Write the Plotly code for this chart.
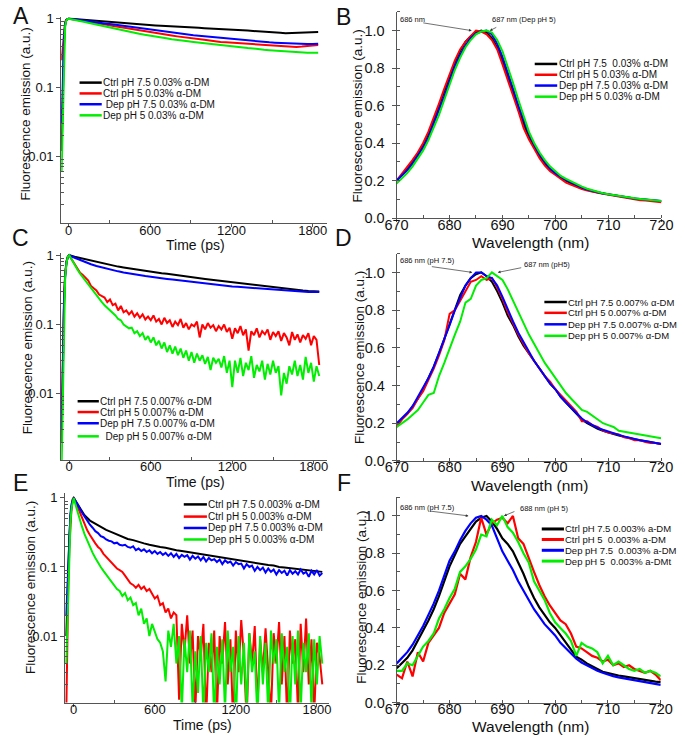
import plotly.graph_objects as go

W, H = 685, 743
FONT = "Liberation Sans, Arial, sans-serif"
COLORS = ["#000000", "#ff0000", "#0000ff", "#00ee00"]

# ---------------- Panel A (0.03% a-DM) decay, t step 40 ps ----------------
tA_rise = [-52, -46, -40, -34, -26, -18, -9]
A_black_rise = [0.012, 0.04, 0.15, 0.45, 0.8, 0.95, 0.99]
A_red_rise = [0.25, 0.35, 0.55, 0.75, 0.9, 0.97, 0.99]
A_blue_rise = [0.03, 0.08, 0.25, 0.55, 0.85, 0.96, 0.99]
A_green_rise = [0.006, 0.02, 0.1, 0.4, 0.78, 0.94, 0.99]
A_black = [1.00, 0.995, 0.98, 0.96, 0.94, 0.925, 0.91, 0.90, 0.89, 0.875, 0.865, 0.85, 0.84, 0.83, 0.815,
           0.805, 0.80, 0.79, 0.785, 0.775, 0.77, 0.76, 0.755, 0.745, 0.74, 0.73, 0.725, 0.715, 0.71, 0.70,
           0.69, 0.685, 0.68, 0.675, 0.665, 0.66, 0.655, 0.65, 0.64, 0.625, 0.615, 0.62, 0.63, 0.635, 0.64,
           0.64, 0.645]
A_red = [1.0, 0.98, 0.955, 0.93, 0.90, 0.87, 0.845, 0.82, 0.795, 0.77, 0.745, 0.72, 0.70, 0.68, 0.655,
         0.635, 0.62, 0.60, 0.585, 0.57, 0.555, 0.54, 0.53, 0.515, 0.505, 0.495, 0.485, 0.47, 0.46, 0.455,
         0.45, 0.445, 0.44, 0.435, 0.43, 0.425, 0.42, 0.415, 0.405, 0.40, 0.40, 0.395, 0.39, 0.395, 0.405,
         0.41, 0.415]
A_blue = [1.0, 0.985, 0.965, 0.945, 0.92, 0.895, 0.87, 0.85, 0.83, 0.81, 0.785, 0.765, 0.745, 0.725, 0.705,
          0.685, 0.67, 0.655, 0.64, 0.625, 0.61, 0.60, 0.585, 0.575, 0.565, 0.555, 0.545, 0.535, 0.525, 0.515,
          0.505, 0.495, 0.49, 0.48, 0.475, 0.465, 0.46, 0.455, 0.45, 0.445, 0.44, 0.435, 0.435, 0.43, 0.43,
          0.43, 0.435]
A_green = [1.0, 0.97, 0.935, 0.895, 0.86, 0.825, 0.79, 0.76, 0.73, 0.70, 0.675, 0.65, 0.625, 0.605, 0.585,
           0.565, 0.55, 0.535, 0.52, 0.505, 0.49, 0.48, 0.47, 0.46, 0.45, 0.44, 0.43, 0.42, 0.41, 0.405,
           0.40, 0.39, 0.385, 0.375, 0.37, 0.36, 0.355, 0.35, 0.345, 0.34, 0.335, 0.33, 0.33, 0.325, 0.32,
           0.32, 0.32]

# ---------------- Panel C (0.007% a-DM) decay ----------------
tC_rise = [-56, -50, -44, -38, -30, -20, -10]
C_black_rise = [0.002, 0.01, 0.05, 0.2, 0.5, 0.8, 0.95]
C_red_rise = [0.004, 0.02, 0.08, 0.25, 0.55, 0.82, 0.96]
C_blue_rise = [0.003, 0.015, 0.06, 0.22, 0.5, 0.8, 0.95]
C_green_rise = [0.0009, 0.005, 0.04, 0.18, 0.48, 0.78, 0.95]
# step 40 ps
C_black = [1.0, 0.95, 0.91, 0.87, 0.83, 0.80, 0.76, 0.735, 0.71, 0.685, 0.665, 0.645, 0.63, 0.61, 0.595,
           0.58, 0.565, 0.55, 0.54, 0.525, 0.51, 0.50, 0.49, 0.475, 0.465, 0.455, 0.445, 0.435, 0.425, 0.415,
           0.405, 0.40, 0.39, 0.38, 0.37, 0.365, 0.355, 0.35, 0.34, 0.335, 0.33, 0.32, 0.315, 0.31, 0.305,
           0.30, 0.30]
C_blue = [1.0, 0.92, 0.85, 0.79, 0.74, 0.70, 0.665, 0.635, 0.61, 0.585, 0.565, 0.545, 0.53, 0.515, 0.50,
          0.49, 0.475, 0.465, 0.455, 0.445, 0.435, 0.425, 0.42, 0.41, 0.40, 0.395, 0.385, 0.375, 0.37, 0.36,
          0.355, 0.35, 0.345, 0.34, 0.335, 0.33, 0.325, 0.32, 0.315, 0.31, 0.31, 0.305, 0.30, 0.30, 0.295,
          0.295, 0.295]
# step 20 ps
C_red = [1.0, 0.86, 0.74, 0.64, 0.56, 0.52, 0.47, 0.43, 0.36, 0.33, 0.31, 0.27, 0.26, 0.245, 0.21, 0.23,
         0.19, 0.20, 0.16, 0.185, 0.15, 0.16, 0.14, 0.155, 0.13, 0.145, 0.125, 0.14, 0.118, 0.13, 0.115,
         0.135, 0.11, 0.12, 0.10, 0.125, 0.105, 0.115, 0.092, 0.11, 0.098, 0.12, 0.09, 0.105, 0.085, 0.10,
         0.094, 0.11, 0.065, 0.10, 0.085, 0.105, 0.09, 0.098, 0.08, 0.095, 0.085, 0.10, 0.078, 0.09, 0.062,
         0.088, 0.075, 0.095, 0.07, 0.085, 0.042, 0.08, 0.07, 0.088, 0.065, 0.08, 0.072, 0.085, 0.06, 0.078,
         0.068, 0.08, 0.058, 0.075, 0.065, 0.05, 0.078, 0.06, 0.072, 0.055, 0.07, 0.062, 0.075, 0.05, 0.068,
         0.06, 0.026]
C_green = [1.0, 0.84, 0.72, 0.62, 0.54, 0.48, 0.42, 0.37, 0.33, 0.29, 0.26, 0.235, 0.21, 0.19, 0.175, 0.16,
           0.145, 0.135, 0.12, 0.115, 0.10, 0.095, 0.088, 0.09, 0.075, 0.08, 0.068, 0.075, 0.06, 0.068, 0.055,
           0.065, 0.05, 0.058, 0.045, 0.055, 0.04, 0.05, 0.038, 0.048, 0.036, 0.045, 0.033, 0.042, 0.03, 0.04,
           0.028, 0.038, 0.03, 0.036, 0.027, 0.034, 0.022, 0.033, 0.028, 0.032, 0.024, 0.035, 0.02, 0.03,
           0.0125, 0.03, 0.02, 0.033, 0.018, 0.028, 0.022, 0.035, 0.017, 0.026, 0.021, 0.03, 0.016, 0.027,
           0.019, 0.03, 0.02, 0.025, 0.0095, 0.02, 0.014, 0.025, 0.019, 0.03, 0.018, 0.026, 0.016, 0.034,
           0.02, 0.028, 0.015, 0.025, 0.018]

# ---------------- Panel E (0.003% a-DM) decay ----------------
tE_rise = [-55, -48, -40, -32, -24, -16, -8]
E_black_rise = [0.01, 0.03, 0.1, 0.28, 0.55, 0.8, 0.95]
E_red_rise = [0.0008, 0.01, 0.06, 0.2, 0.45, 0.72, 0.92]
E_blue_rise = [0.02, 0.05, 0.15, 0.35, 0.6, 0.82, 0.95]
E_green_rise = [0.004, 0.012, 0.06, 0.2, 0.45, 0.72, 0.92]
# step 40 ps
E_black = [1.0, 0.74, 0.56, 0.47, 0.42, 0.38, 0.345, 0.32, 0.295, 0.275, 0.255, 0.245, 0.235, 0.22, 0.21,
           0.20, 0.195, 0.19, 0.18, 0.175, 0.17, 0.165, 0.16, 0.155, 0.15, 0.147, 0.143, 0.14, 0.136, 0.132,
           0.128, 0.125, 0.12, 0.117, 0.113, 0.11, 0.107, 0.105, 0.10, 0.098, 0.096, 0.094, 0.092, 0.09,
           0.088, 0.086, 0.085]
# step 20 ps
E_blue = [1.0, 0.86, 0.72, 0.62, 0.54, 0.46, 0.41, 0.37, 0.33, 0.31, 0.28, 0.27, 0.25, 0.24, 0.235, 0.22,
          0.225, 0.21, 0.205, 0.21, 0.195, 0.19, 0.20, 0.175, 0.185, 0.17, 0.18, 0.165, 0.175, 0.158, 0.17,
          0.155, 0.165, 0.15, 0.16, 0.145, 0.158, 0.14, 0.155, 0.135, 0.15, 0.14, 0.148, 0.128, 0.145, 0.132,
          0.142, 0.125, 0.14, 0.12, 0.135, 0.125, 0.13, 0.118, 0.128, 0.11, 0.125, 0.115, 0.12, 0.105, 0.118,
          0.11, 0.112, 0.095, 0.11, 0.10, 0.105, 0.088, 0.10, 0.09, 0.098, 0.083, 0.095, 0.085, 0.092, 0.078,
          0.09, 0.082, 0.088, 0.075, 0.09, 0.08, 0.087, 0.078, 0.092, 0.08, 0.085, 0.072, 0.088, 0.078, 0.09,
          0.075, 0.082]
E_red = [1.0, 0.82, 0.65, 0.52, 0.42, 0.34, 0.29, 0.25, 0.22, 0.195, 0.18, 0.155, 0.14, 0.125, 0.115, 0.105,
         0.095, 0.09, 0.085, 0.075, 0.065, 0.058, 0.055, 0.05, 0.055, 0.048, 0.052, 0.045, 0.048, 0.04, 0.035,
         0.038, 0.028, 0.03, 0.022, 0.025, 0.018, 0.022, 0.02, 0.0012, 0.015, 0.006, 0.02, 0.004, 0.012,
         0.0008, 0.01, 0.005, 0.015, 0.0006, 0.008, 0.003, 0.012, 0.0007, 0.01, 0.004, 0.016, 0.002, 0.009,
         0.0005, 0.012, 0.003, 0.017, 0.005, 0.0006, 0.011, 0.004, 0.014, 0.0009, 0.009, 0.003, 0.013, 0.002,
         0.0007, 0.011, 0.004, 0.016, 0.002, 0.01, 0.0006, 0.012, 0.004, 0.009, 0.0008, 0.015, 0.003, 0.018,
         0.002, 0.009, 0.0007, 0.008, 0.005, 0.002]
E_green = [1.0, 0.72, 0.52, 0.39, 0.30, 0.24, 0.19, 0.16, 0.135, 0.115, 0.10, 0.088, 0.078, 0.068, 0.06,
           0.055, 0.048, 0.045, 0.038, 0.042, 0.033, 0.036, 0.028, 0.03, 0.02, 0.025, 0.015, 0.018, 0.01,
           0.015, 0.012, 0.009, 0.008, 0.006, 0.0022, 0.012, 0.007, 0.015, 0.004, 0.01, 0.0008, 0.009, 0.003,
           0.012, 0.0009, 0.006, 0.0015, 0.01, 0.0007, 0.008, 0.003, 0.011, 0.0006, 0.007, 0.002, 0.009,
           0.0008, 0.012, 0.003, 0.007, 0.0005, 0.01, 0.002, 0.008, 0.0009, 0.011, 0.003, 0.006, 0.0006, 0.01,
           0.002, 0.008, 0.0007, 0.012, 0.004, 0.009, 0.0008, 0.011, 0.003, 0.007, 0.0006, 0.01, 0.002, 0.012,
           0.0008, 0.008, 0.003, 0.011, 0.0009, 0.009, 0.002, 0.01, 0.004]

# ---------------- Spectra, 670..720 nm, 1 nm step ----------------
B_black = [0.20, 0.23, 0.26, 0.30, 0.34, 0.39, 0.45, 0.52, 0.60, 0.68, 0.76, 0.83, 0.89, 0.94, 0.97, 0.99,
           1.00, 0.99, 0.96, 0.91, 0.84, 0.76, 0.67, 0.58, 0.50, 0.43, 0.38, 0.33, 0.29, 0.26, 0.24, 0.22,
           0.20, 0.185, 0.17, 0.16, 0.15, 0.143, 0.137, 0.132, 0.128, 0.123, 0.118, 0.114, 0.11, 0.105, 0.10,
           0.098, 0.095, 0.092, 0.09]
B_red = [0.20, 0.235, 0.27, 0.31, 0.35, 0.40, 0.46, 0.53, 0.61, 0.69, 0.77, 0.84, 0.90, 0.94, 0.97, 1.00,
         0.995, 0.98, 0.95, 0.90, 0.82, 0.74, 0.65, 0.57, 0.48, 0.42, 0.37, 0.32, 0.28, 0.25, 0.23, 0.21,
         0.19, 0.178, 0.165, 0.155, 0.147, 0.14, 0.135, 0.13, 0.125, 0.12, 0.115, 0.11, 0.105, 0.10, 0.096,
         0.094, 0.092, 0.09, 0.085]
B_blue = [0.20, 0.225, 0.255, 0.29, 0.33, 0.375, 0.43, 0.50, 0.57, 0.65, 0.73, 0.81, 0.87, 0.92, 0.96, 0.985,
          0.995, 1.0, 0.98, 0.93, 0.86, 0.78, 0.69, 0.60, 0.52, 0.45, 0.39, 0.34, 0.30, 0.265, 0.24, 0.22,
          0.205, 0.19, 0.175, 0.163, 0.153, 0.145, 0.138, 0.132, 0.127, 0.122, 0.118, 0.114, 0.11, 0.105,
          0.102, 0.099, 0.096, 0.094, 0.092]
B_green = [0.185, 0.21, 0.24, 0.275, 0.315, 0.36, 0.415, 0.48, 0.55, 0.63, 0.71, 0.79, 0.855, 0.91, 0.95,
           0.98, 0.995, 1.0, 0.99, 0.95, 0.89, 0.81, 0.72, 0.63, 0.54, 0.46, 0.40, 0.35, 0.31, 0.275, 0.25,
           0.225, 0.21, 0.195, 0.18, 0.168, 0.157, 0.148, 0.14, 0.133, 0.128, 0.123, 0.118, 0.114, 0.11, 0.106,
           0.103, 0.10, 0.097, 0.095, 0.092]

D_black = [0.195, 0.22, 0.25, 0.29, 0.33, 0.38, 0.44, 0.50, 0.57, 0.65, 0.73, 0.81, 0.88, 0.93, 0.97, 0.99,
           1.00, 0.98, 0.95, 0.90, 0.84, 0.77, 0.72, 0.66, 0.61, 0.57, 0.53, 0.49, 0.45, 0.41, 0.38, 0.34,
           0.31, 0.28, 0.25, 0.22, 0.20, 0.185, 0.17, 0.16, 0.15, 0.142, 0.135, 0.127, 0.12, 0.115, 0.11,
           0.105, 0.10, 0.095, 0.09]
D_red = [0.18, 0.22, 0.25, 0.28, 0.33, 0.37, 0.43, 0.49, 0.56, 0.64, 0.78, 0.80, 0.85, 0.90, 0.95, 0.96,
         0.98, 0.96, 0.97, 0.92, 0.86, 0.79, 0.73, 0.67, 0.62, 0.57, 0.53, 0.49, 0.45, 0.42, 0.38, 0.35,
         0.32, 0.29, 0.26, 0.21, 0.21, 0.19, 0.18, 0.16, 0.15, 0.145, 0.14, 0.125, 0.12, 0.11, 0.11, 0.10,
         0.095, 0.095, 0.09]
D_blue = [0.20, 0.225, 0.255, 0.29, 0.34, 0.39, 0.44, 0.50, 0.57, 0.64, 0.72, 0.80, 0.87, 0.93, 0.97, 1.0,
          1.0, 0.98, 0.97, 0.93, 0.87, 0.80, 0.74, 0.68, 0.63, 0.58, 0.53, 0.49, 0.45, 0.41, 0.38, 0.34,
          0.31, 0.28, 0.25, 0.225, 0.205, 0.19, 0.175, 0.165, 0.155, 0.145, 0.138, 0.13, 0.122, 0.115, 0.11,
          0.105, 0.10, 0.095, 0.09]
D_green = [0.18, 0.20, 0.22, 0.245, 0.27, 0.31, 0.35, 0.36, 0.45, 0.52, 0.60, 0.67, 0.74, 0.84, 0.86, 0.93,
           0.96, 0.97, 1.00, 0.98, 0.96, 0.91, 0.85, 0.79, 0.73, 0.67, 0.62, 0.57, 0.52, 0.48, 0.44, 0.40,
           0.36, 0.33, 0.30, 0.27, 0.26, 0.24, 0.22, 0.20, 0.19, 0.18, 0.16, 0.155, 0.15, 0.145, 0.14, 0.135,
           0.13, 0.125, 0.12]

F_black = [0.184, 0.21, 0.24, 0.28, 0.33, 0.386, 0.44, 0.50, 0.57, 0.65, 0.73, 0.79, 0.85, 0.89, 0.93, 0.97,
           0.99, 1.0, 0.97, 0.93, 0.88, 0.85, 0.81, 0.75, 0.69, 0.62, 0.56, 0.51, 0.47, 0.43, 0.40, 0.36,
           0.32, 0.28, 0.245, 0.23, 0.21, 0.195, 0.18, 0.165, 0.158, 0.15, 0.145, 0.14, 0.135, 0.13, 0.125,
           0.12, 0.115, 0.112, 0.11]
F_red = [0.15, 0.13, 0.22, 0.14, 0.27, 0.22, 0.32, 0.36, 0.40, 0.48, 0.53, 0.58, 0.69, 0.66, 0.78, 0.86,
         0.99, 0.90, 0.96, 0.98, 0.99, 0.96, 1.0, 0.88, 0.85, 0.77, 0.70, 0.63, 0.57, 0.52, 0.48, 0.44,
         0.42, 0.37, 0.30, 0.29, 0.27, 0.25, 0.24, 0.22, 0.23, 0.20, 0.21, 0.19, 0.20, 0.18, 0.17, 0.16,
         0.17, 0.15, 0.12]
F_blue = [0.21, 0.24, 0.27, 0.31, 0.36, 0.41, 0.47, 0.53, 0.60, 0.68, 0.76, 0.81, 0.87, 0.92, 0.96, 0.99,
          1.0, 0.98, 0.95, 0.88, 0.81, 0.76, 0.71, 0.65, 0.60, 0.55, 0.50, 0.46, 0.42, 0.39, 0.36, 0.32,
          0.29, 0.26, 0.235, 0.215, 0.20, 0.185, 0.17, 0.16, 0.15, 0.142, 0.135, 0.13, 0.125, 0.12, 0.115,
          0.11, 0.105, 0.10, 0.095]
F_green = [0.17, 0.17, 0.21, 0.20, 0.25, 0.30, 0.33, 0.37, 0.45, 0.50, 0.56, 0.61, 0.70, 0.73, 0.77, 0.82,
           0.90, 0.89, 0.98, 0.95, 1.0, 0.94, 0.91, 0.86, 0.80, 0.75, 0.65, 0.60, 0.55, 0.48, 0.43, 0.40,
           0.37, 0.33, 0.25, 0.32, 0.30, 0.29, 0.27, 0.21, 0.25, 0.20, 0.22, 0.20, 0.18, 0.17, 0.18, 0.16,
           0.17, 0.16, 0.14]

wavelength_start, wavelength_step = 670, 1

time_ticks = [0, 600, 1200, 1800]
time_minor = [300, 900, 1500]
log_ticks = [0.01, 0.1, 1]
log_ticktext = ["0.01", "0.1", "1"]
log_minor = [0.002, 0.003, 0.004, 0.005, 0.006, 0.007, 0.008, 0.009,
             0.02, 0.03, 0.04, 0.05, 0.06, 0.07, 0.08, 0.09,
             0.2, 0.3, 0.4, 0.5, 0.6, 0.7, 0.8, 0.9]

legend_A = ["Ctrl pH 7.5 0.03% α-DM", "Ctrl pH 5 0.03% α-DM", "\u00a0Dep pH 7.5 0.03% α-DM", "Dep pH 5 0.03% α-DM"]
legend_B = ["Ctrl pH 7.5 \u00a00.03% α-DM", "Ctrl pH 5 0.03% α-DM", "Dep pH 7.5 0.03% α-DM", "Dep pH 5 0.03% α-DM"]
legend_C = ["Ctrl pH 7.5 0.007% α-DM", "Ctrl pH 5 0.007% α-DM", "Dep pH 7.5 0.007% α-DM", "\u00a0\u00a0Dep pH 5 0.007% α-DM"]
legend_D = ["Ctrl pH 7.5 0.007% α-DM", "Ctrl pH 5 0.007% α-DM", "Dep pH 7.5 0.007% α-DM", "Dep pH 5 0.007% α-DM"]
legend_E = ["Ctrl pH 7.5 0.003% α-DM", "Ctrl pH 5 0.003% α-DM", "Dep pH 7.5 0.003% α-DM", "Dep pH 5 0.003% α-DM"]
legend_F = ["Ctrl pH 7.5 0.003% a-DM", "Ctrl pH 5 \u00a00.003% a-DM", "Dep pH 7.5 \u00a00.003% a-DM", "Dep pH 5 \u00a00.003% a-DMt"]


def px(x):
    return x / W


def py(y):
    return 1 - y / H


fig = go.Figure()


def add_decay(ax, rise_t, rises, curves, steps):
    for rise, vals, step, col in zip(rises, curves, steps, COLORS):
        xs = rise_t + [step * i for i in range(len(vals))]
        ys = rise + vals
        fig.add_trace(go.Scatter(x=xs, y=ys, mode="lines", line=dict(color=col, width=2),
                                 xaxis="x" + ax, yaxis="y" + ax, showlegend=False))


def add_spec(ax, curves, width=2):
    for vals, col in zip(curves, COLORS):
        xs = [wavelength_start + wavelength_step * i for i in range(len(vals))]
        fig.add_trace(go.Scatter(x=xs, y=vals, mode="lines", line=dict(color=col, width=width),
                                 xaxis="x" + ax, yaxis="y" + ax, showlegend=False))


add_decay("", tA_rise, [A_black_rise, A_red_rise, A_blue_rise, A_green_rise],
          [A_black, A_red, A_blue, A_green], [40, 40, 40, 40])
add_spec("2", [B_black, B_red, B_blue, B_green])
add_decay("3", tC_rise, [C_black_rise, C_red_rise, C_blue_rise, C_green_rise],
          [C_black, C_red, C_blue, C_green], [40, 20, 40, 20])
add_spec("4", [D_black, D_red, D_blue, D_green])
add_decay("5", tE_rise, [E_black_rise, E_red_rise, E_blue_rise, E_green_rise],
          [E_black, E_red, E_blue, E_green], [40, 20, 20, 20])
add_spec("6", [F_black, F_red, F_blue, F_green], width=2.2)

AX = dict(showline=True, linecolor="#555", linewidth=1, ticks="outside", ticklen=4, tickcolor="#555",
          tickwidth=1, showgrid=False, zeroline=False, mirror=False)


def time_axis(dom, rng, anchor):
    return dict(AX, domain=[px(dom[0]), px(dom[1])], range=rng, anchor=anchor,
                tickmode="array", tickvals=time_ticks, ticklen=3, ticklabelstandoff=-8,
                tickfont=dict(family=FONT, size=13, color="#111"),
                minor=dict(ticks="inside", ticklen=3, tickvals=time_minor, tickcolor="#555"))


def log_axis(dom, rng, anchor):
    return dict(AX, type="log", domain=[py(dom[1]), py(dom[0])], range=rng, anchor=anchor,
                tickmode="array", tickvals=log_ticks, ticktext=log_ticktext,
                tickfont=dict(family=FONT, size=13, color="#111"),
                minor=dict(ticks="inside", ticklen=2.5, tickvals=log_minor, tickcolor="#555"))


def wl_axis(dom, anchor):
    return dict(AX, domain=[px(dom[0]), px(dom[1])], range=[670, 720], anchor=anchor, ticklen=3,
                ticklabelstandoff=-10,
                tick0=670, dtick=10, tickfont=dict(family=FONT, size=14.5, color="#111"),
                minor=dict(ticks="inside", ticklen=3, dtick=5, tickcolor="#555"))


def lin_axis(dom, anchor):
    return dict(AX, domain=[py(dom[1]), py(dom[0])], range=[0, 1.1], anchor=anchor,
                tick0=0, dtick=0.2, tickformat=".1f", tickfont=dict(family=FONT, size=14.5, color="#111"),
                ticklabelstandoff=4,
                minor=dict(ticks="inside", ticklen=3, dtick=0.1, tickcolor="#555"))


fig.update_layout(
    width=W, height=H, margin=dict(l=0, r=0, t=0, b=0),
    paper_bgcolor="white", plot_bgcolor="white",
    font=dict(family=FONT, color="#111"),
    xaxis=time_axis([51, 326], [-55, 1902], "y"),
    yaxis=log_axis([12, 222], [-2.971, 0.029], "x"),
    xaxis2=wl_axis([398.5, 673], "y2"),
    yaxis2=lin_axis([7, 217], "x2"),
    xaxis3=time_axis([51, 326.7], [-59, 1899], "y3"),
    yaxis3=log_axis([252, 463], [-2.955, 0.038], "x3"),
    xaxis4=wl_axis([398.7, 672.7], "y4"),
    yaxis4=lin_axis([253, 464], "x4"),
    xaxis5=time_axis([55, 328], [-64, 1886], "y5"),
    yaxis5=log_axis([497, 710], [-2.963, 0.067], "x5"),
    xaxis6=wl_axis([398.7, 672.3], "y6"),
    yaxis6=lin_axis([501, 710], "x6"),
)

ann = []
shapes = []


def text(x, y, s, size, xanchor="center", angle=0):
    ann.append(dict(x=px(x), y=py(y), xref="paper", yref="paper", text=s, showarrow=False,
                    xanchor=xanchor, yanchor="middle", textangle=angle,
                    font=dict(family=FONT, size=size, color="#111")))


# panel letters
for s, x, y in [("A", 9, 11), ("B", 344, 12), ("C", 9, 237), ("D", 344, 237), ("E", 9, 487), ("F", 344, 487)]:
    text(x, y, s, 23)

# axis titles
for x, y in [(190, 244), (190, 485), (197, 733)]:
    text(x, y, "Time (ps)", 14)
for x, y in [(537, 242), (536, 489), (537, 734)]:
    text(x, y, "Wavelength (nm)", 15.5)
for x, y in [(14, 111), (16, 349), (19, 593), (358, 113), (360, 359), (362, 603)]:
    text(x, y, "Fluorescence emission (a.u.)", 13.5, angle=-90)


def legend(labels, x0, x1, ys, tx, lw=2.5, size=10):
    for lab, y, col in zip(labels, ys, COLORS):
        shapes.append(dict(type="line", xref="paper", yref="paper", x0=px(x0), x1=px(x1),
                           y0=py(y), y1=py(y), line=dict(color=col, width=lw)))
        text(tx, y, lab, size, xanchor="left")


legend(legend_A, 70, 93, [79, 90, 101, 112.3], 92.5)
legend(legend_B, 541.7, 565, [60, 71, 82, 93.3], 564.5)
legend(legend_C, 68, 90, [403.3, 414.3, 425.7, 439], 89.5)
legend(legend_D, 551.7, 575, [302.3, 313.3, 325, 336.7], 574.5, size=9.5)
legend(legend_E, 178, 202, [508.3, 520.7, 532.3, 544], 201)
legend(legend_F, 549, 572, [533.3, 544, 555, 566], 571.5, lw=3, size=9.5)

# peak annotations
for s, x, y in [("686 nm", 415, 15), ("687 nm (Dep pH 5)", 531, 15),
                ("686 nm (pH 7.5)", 431, 260), ("687 nm (pH5)", 554, 264),
                ("686 nm (pH 7.5)", 431, 511.7), ("688 nm (pH 5)", 551, 512.7)]:
    text(x, y, s, 7.5)

for xr, yr, hx, axp, ayp in [("x2", "y2", 684.2, -50, -8), ("x2", "y2", 687.6, 8, -4),
                             ("x4", "y4", 684.3, -42, -6), ("x4", "y4", 689.1, 25, -5),
                             ("x6", "y6", 683.6, -40, -5), ("x6", "y6", 690.3, 12, -5)]:
    ann.append(dict(x=hx, y=1.0, xref=xr, yref=yr, ax=axp, ay=ayp, text="", showarrow=True,
                    arrowhead=2, arrowsize=0.8, arrowwidth=0.7, arrowcolor="#333"))

fig.update_layout(annotations=ann, shapes=shapes)
fig.write_html("out.html", config={"displayModeBar": False},
               post_script="document.body.style.margin='0';document.body.style.overflow='hidden';")
